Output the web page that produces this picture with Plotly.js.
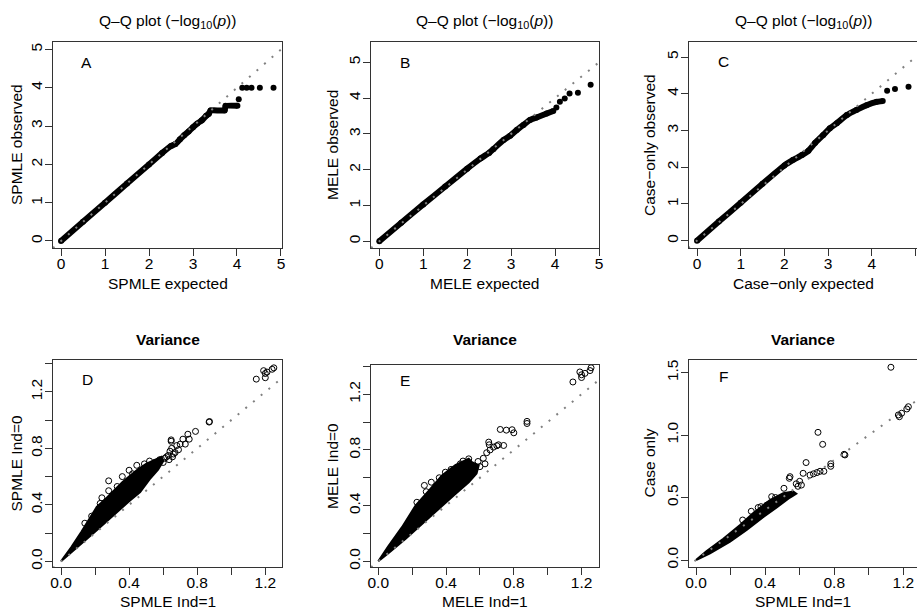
<!DOCTYPE html>
<html>
<head>
<meta charset="utf-8">
<script src="https://cdn.plot.ly/plotly-3.0.1.min.js"></script>
<style>html,body{margin:0;padding:0;background:#fff;}#chart{width:917px;height:607px;}</style>
</head>
<body>
<div id="chart"></div>
<script>
// ---------- Data ----------
// Panel A: SPMLE Q-Q (-log10 p), dense band + sparse tail
const A_band_exp = [0, 0.5, 1.0, 1.5, 2.0, 2.3, 2.5, 2.6, 2.7, 2.8, 2.9, 3.0, 3.1, 3.2, 3.3, 3.36, 3.4, 3.72, 3.74, 4.01];
const A_band_obs = [0, 0.5, 1.0, 1.5, 2.0, 2.3, 2.48, 2.53, 2.65, 2.76, 2.86, 2.97, 3.07, 3.15, 3.27, 3.32, 3.41, 3.41, 3.53, 3.53];
const A_tail_exp = [4.04, 4.12, 4.22, 4.33, 4.52, 4.83];
const A_tail_obs = [3.70, 4.0, 4.0, 4.0, 4.0, 4.0];

// Panel B: MELE Q-Q
const B_band_exp = [0, 0.5, 1.0, 1.5, 2.0, 2.3, 2.5, 2.6, 2.83, 2.98, 3.13, 3.28, 3.43, 3.58, 3.81, 3.96];
const B_band_obs = [0, 0.52, 1.03, 1.53, 2.03, 2.31, 2.47, 2.58, 2.83, 2.95, 3.11, 3.25, 3.39, 3.46, 3.57, 3.64];
const B_tail_exp = [4.03, 4.11, 4.22, 4.33, 4.52, 4.81];
const B_tail_obs = [3.74, 3.90, 3.99, 4.13, 4.15, 4.37];

// Panel C: Case-only Q-Q
const C_band_exp = [0, 0.5, 1.0, 1.5, 2.0, 2.2, 2.4, 2.55, 2.7, 2.89, 3.04, 3.2, 3.43, 3.65, 3.88, 4.11, 4.25];
const C_band_obs = [0, 0.52, 1.03, 1.55, 2.05, 2.2, 2.33, 2.45, 2.66, 2.88, 3.06, 3.2, 3.42, 3.56, 3.69, 3.78, 3.80];
const C_tail_exp = [4.35, 4.53, 4.84];
const C_tail_obs = [4.08, 4.13, 4.19];

// Panel D: variance SPMLE Ind=1 vs Ind=0 (dense core outline + individual points)
const D_core_x = [0.00, 0.06, 0.12, 0.17, 0.21, 0.26, 0.31, 0.36, 0.40, 0.45, 0.50, 0.55, 0.59, 0.60, 0.57, 0.52, 0.465, 0.40, 0.30, 0.20, 0.10, 0.03, 0.00];
const D_core_y = [0.00, 0.10, 0.21, 0.31, 0.385, 0.44, 0.50, 0.56, 0.60, 0.65, 0.69, 0.72, 0.74, 0.71, 0.65, 0.58, 0.49, 0.425, 0.315, 0.21, 0.105, 0.03, 0.00];
const D_pts_x = [1.147, 1.19, 1.20, 1.21, 1.20, 1.24, 1.25, 0.87, 0.872, 0.79, 0.745, 0.753, 0.716, 0.73, 0.70, 0.68, 0.647, 0.647, 0.65, 0.64, 0.66, 0.63, 0.62, 0.69, 0.67, 0.58, 0.49, 0.445, 0.40, 0.28, 0.28, 0.24, 0.18, 0.23, 0.36, 0.42, 0.52, 0.55, 0.33, 0.14, 0.61, 0.60, 0.635, 0.655];
const D_pts_y = [1.29, 1.35, 1.33, 1.34, 1.30, 1.36, 1.37, 0.986, 0.99, 0.92, 0.90, 0.865, 0.865, 0.83, 0.83, 0.82, 0.86, 0.85, 0.80, 0.78, 0.76, 0.75, 0.74, 0.79, 0.77, 0.72, 0.69, 0.68, 0.645, 0.57, 0.50, 0.45, 0.32, 0.41, 0.60, 0.62, 0.71, 0.70, 0.53, 0.27, 0.73, 0.70, 0.72, 0.74];

// Panel E: variance MELE Ind=1 vs Ind=0
const E_core_x = [0.00, 0.06, 0.14, 0.22, 0.30, 0.376, 0.455, 0.534, 0.553, 0.593, 0.58, 0.534, 0.455, 0.356, 0.258, 0.16, 0.061, 0.00];
const E_core_y = [0.00, 0.11, 0.245, 0.40, 0.51, 0.617, 0.69, 0.736, 0.712, 0.69, 0.63, 0.568, 0.484, 0.376, 0.27, 0.16, 0.06, 0.00];
const E_pts_x = [1.149, 1.19, 1.20, 1.20, 1.22, 1.25, 1.256, 0.878, 0.878, 0.72, 0.756, 0.79, 0.80, 0.652, 0.655, 0.71, 0.74, 0.589, 0.565, 0.534, 0.484, 0.396, 0.313, 0.272, 0.283, 0.228, 0.62, 0.64, 0.66, 0.68, 0.63, 0.70, 0.60, 0.50, 0.43, 0.36];
const E_pts_y = [1.288, 1.36, 1.34, 1.32, 1.35, 1.37, 1.39, 1.005, 0.99, 0.947, 0.942, 0.945, 0.923, 0.856, 0.837, 0.837, 0.832, 0.717, 0.652, 0.736, 0.70, 0.64, 0.568, 0.545, 0.50, 0.424, 0.74, 0.78, 0.80, 0.82, 0.70, 0.83, 0.68, 0.72, 0.66, 0.60];

// Panel F: variance SPMLE Ind=1 vs Case only
const F_core_x = [0.00, 0.06, 0.158, 0.255, 0.33, 0.428, 0.505, 0.563, 0.58, 0.544, 0.467, 0.39, 0.293, 0.197, 0.081, 0.00];
const F_core_y = [0.00, 0.07, 0.17, 0.28, 0.374, 0.48, 0.534, 0.547, 0.53, 0.50, 0.42, 0.345, 0.24, 0.147, 0.054, 0.00];
const F_pts_x = [1.128, 1.171, 1.177, 1.19, 1.229, 1.22, 0.706, 0.733, 0.857, 0.862, 0.78, 0.78, 0.74, 0.718, 0.637, 0.544, 0.54, 0.62, 0.66, 0.509, 0.438, 0.376, 0.41, 0.61, 0.58, 0.60, 0.59, 0.70, 0.68, 0.32, 0.36, 0.46, 0.27];
const F_pts_y = [1.543, 1.161, 1.147, 1.175, 1.227, 1.209, 1.022, 0.926, 0.846, 0.841, 0.77, 0.75, 0.71, 0.71, 0.78, 0.667, 0.654, 0.694, 0.68, 0.574, 0.507, 0.427, 0.44, 0.60, 0.61, 0.63, 0.59, 0.70, 0.69, 0.39, 0.42, 0.50, 0.32];

// Tick labels
const qqTicks = [0, 1, 2, 3, 4, 5];
const qqTickText = ['0', '1', '2', '3', '4', '5'];
const varXTicks = [0, 0.4, 0.8, 1.2];
const varXTickText = ['0.0', '0.4', '0.8', '1.2'];
const varYTicks = [0, 0.4, 0.8, 1.2];
const varYTickText = ['0.0', '0.4', '0.8', '1.2'];
const fYTicks = [0, 0.5, 1.0, 1.5];
const fYTickText = ['0.0', '0.5', '1.0', '1.5'];

// Text
const qqTitle = 'Q\u2013Q plot (\u2212log<sub>10</sub>(<i>p</i>))';
const varTitle = '<b>Variance</b>';
const xTitles = ['SPMLE expected', 'MELE expected', 'Case\u2212only expected', 'SPMLE Ind=1', 'MELE Ind=1', 'SPMLE Ind=1'];
const yTitles = ['SPMLE observed', 'MELE observed', 'Case\u2212only observed', 'SPMLE Ind=0', 'MELE Ind=0', 'Case only'];
const letters = ['A', 'B', 'C', 'D', 'E', 'F'];

// ---------- Layout geometry (pixels) ----------
const W = 917, H = 607;
const FONT = 'Liberation Sans, Arial, Helvetica, sans-serif';
const FS = 15.5;
// [left, right, top, bottom] of each plot box in px
const boxes = [
  [53, 282, 42, 248], [371, 599, 42, 248], [689, 917, 42, 248],
  [53, 282, 360, 567], [371, 599, 365, 567], [689, 917, 360, 567]
];
const xRanges = [[-0.182, 5.023], [-0.189, 5.0], [-0.183, 5.034], [-0.047, 1.298], [-0.043, 1.303], [-0.0405, 1.279]];
const yRanges = [[-0.183, 5.196], [-0.187, 5.567], [-0.2, 5.41], [-0.040, 1.4255], [-0.041, 1.41], [-0.056, 1.601]];
const xT = [[qqTicks, qqTickText, 0], [qqTicks, qqTickText, 0], [qqTicks, qqTickText, 0], [varXTicks, varXTickText, 0.2], [varXTicks, varXTickText, 0.2], [varXTicks, varXTickText, 0.2]];
const yT = [[qqTicks, qqTickText, 0], [qqTicks, qqTickText, 0], [qqTicks, qqTickText, 0], [varYTicks, varYTickText, 0.2], [varYTicks, varYTickText, 0.2], [fYTicks, fYTickText, 0]];
const letterPos = [[0.59, 4.67], [0.59, 5.0], [0.60, 4.87], [0.155, 1.289], [0.158, 1.30], [0.158, 1.47]];
const yTitleX = [16, 332, 649, 16, 332, 649];

const layout = {
  width: W, height: H,
  margin: {l: 0, r: 0, t: 0, b: 0},
  paper_bgcolor: '#fff', plot_bgcolor: '#fff',
  showlegend: false,
  font: {family: FONT, size: FS, color: '#000'},
  annotations: []
};

function baseAxis(dom, range, tv, tt, minorStep, standoff) {
  const a = {
    domain: dom, range: range, tickmode: 'array', tickvals: tv, ticktext: tt,
    showline: true, mirror: true, linecolor: '#333', linewidth: 1,
    ticks: 'outside', ticklen: 7, tickwidth: 1, tickcolor: '#333',
    ticklabelstandoff: standoff,
    showgrid: false, zeroline: false, fixedrange: true,
    tickfont: {family: FONT, size: FS, color: '#000'}
  };
  if (minorStep) {
    a.minor = {tick0: 0, dtick: minorStep, ticks: 'outside', ticklen: 7, tickwidth: 1, tickcolor: '#333', showgrid: false};
  }
  return a;
}

const traces = [];
for (let i = 0; i < 6; i++) {
  const [l, r, t, b] = boxes[i];
  const xs = i === 0 ? '' : String(i + 1);
  const xa = 'xaxis' + xs, ya = 'yaxis' + xs;
  const xd = [l / W, r / W];
  const yd = [1 - b / H, 1 - t / H];
  layout[xa] = Object.assign(baseAxis(xd, xRanges[i], xT[i][0], xT[i][1], xT[i][2], -6), {anchor: 'y' + xs});
  layout[ya] = Object.assign(baseAxis(yd, yRanges[i], yT[i][0], yT[i][1], yT[i][2], -3), {anchor: 'x' + xs, tickangle: -90});

  // panel title
  layout.annotations.push({
    xref: 'paper', yref: 'paper', x: ((l + r) / 2) / W, y: 1 - (i < 3 ? 21.5 : 339) / H,
    xanchor: 'center', yanchor: 'middle', showarrow: false,
    text: i < 3 ? qqTitle : varTitle, font: {family: FONT, size: FS, color: '#000'}
  });
  // x title
  layout.annotations.push({
    xref: 'paper', yref: 'paper', x: ((l + r) / 2) / W, y: 1 - (i < 3 ? 283 : 601) / H,
    xanchor: 'center', yanchor: 'middle', showarrow: false,
    text: xTitles[i], font: {family: FONT, size: FS, color: '#000'}
  });
  // y title
  layout.annotations.push({
    xref: 'paper', yref: 'paper', x: yTitleX[i] / W, y: 1 - ((t + b) / 2) / H,
    xanchor: 'center', yanchor: 'middle', showarrow: false, textangle: -90,
    text: yTitles[i], font: {family: FONT, size: FS, color: '#000'}
  });
  // panel letter
  layout.annotations.push({
    xref: 'x' + xs, yref: 'y' + xs, x: letterPos[i][0], y: letterPos[i][1],
    xanchor: 'center', yanchor: 'middle', showarrow: false,
    text: letters[i], font: {family: FONT, size: FS, color: '#000'}
  });
}

function ax(i) { const s = i === 0 ? '' : String(i + 1); return {xaxis: 'x' + s, yaxis: 'y' + s}; }

const qq = [
  [A_band_exp, A_band_obs, A_tail_exp, A_tail_obs],
  [B_band_exp, B_band_obs, B_tail_exp, B_tail_obs],
  [C_band_exp, C_band_obs, C_tail_exp, C_tail_obs]
];
qq.forEach((d, i) => {
  traces.push(Object.assign({x: d[0], y: d[1], mode: 'lines+markers', line: {color: '#000', width: 6, shape: 'spline', smoothing: 0.3}, marker: {color: '#000', size: 6}, hoverinfo: 'skip'}, ax(i)));
  traces.push(Object.assign({x: d[2], y: d[3], mode: 'markers', marker: {color: '#000', size: 6}, hoverinfo: 'skip'}, ax(i)));
});

const vv = [
  [D_core_x, D_core_y, D_pts_x, D_pts_y],
  [E_core_x, E_core_y, E_pts_x, E_pts_y],
  [F_core_x, F_core_y, F_pts_x, F_pts_y]
];
vv.forEach((d, k) => {
  const i = k + 3;
  traces.push(Object.assign({x: d[0], y: d[1], mode: 'lines', fill: 'toself', fillcolor: '#000', line: {color: '#000', width: 2}, hoverinfo: 'skip'}, ax(i)));
  traces.push(Object.assign({x: d[2], y: d[3], mode: 'markers', marker: {symbol: 'circle-open', size: 6, color: '#000', line: {width: 1, color: '#000'}}, hoverinfo: 'skip'}, ax(i)));
});

// y = x reference lines (dotted grey), spanning each panel
for (let i = 0; i < 6; i++) {
  const lo = Math.min(xRanges[i][0], yRanges[i][0]);
  const hi = Math.max(xRanges[i][1], yRanges[i][1]);
  traces.push(Object.assign({x: [lo, hi], y: [lo, hi], mode: 'lines', line: {color: '#808080', width: 2, dash: '2px,8px'}, hoverinfo: 'skip'}, ax(i)));
}

Plotly.newPlot('chart', traces, layout, {displayModeBar: false, staticPlot: true});
</script>
</body>
</html>
